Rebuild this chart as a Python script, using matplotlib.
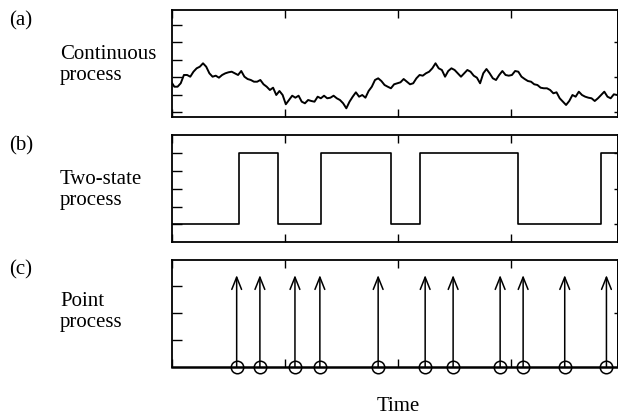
import numpy as np
import matplotlib
matplotlib.use("Agg")
import matplotlib.pyplot as plt

plt.rcParams['font.family'] = ['Liberation Serif', 'DejaVu Serif']

# ---------------- data ----------------
# (a) continuous process, sampled uniformly in time
cont_t_start, cont_t_end = -0.01, 3.945
cont_values = [
    0.874, 0.731, 0.731, 0.829, 1.066, 1.066, 1.017, 1.160, 1.257, 1.303,
    1.400, 1.303, 1.114, 1.017, 1.046, 0.989, 1.066, 1.114, 1.143, 1.160,
    1.114, 1.066, 1.180, 1.017, 0.951, 0.923, 0.874, 0.874, 0.923, 0.800,
    0.731, 0.637, 0.703, 0.494,
    0.609, 0.494, 0.229, 0.351, 0.474, 0.417, 0.474, 0.303, 0.257, 0.351,
    0.323, 0.303, 0.446, 0.400, 0.474, 0.400, 0.417, 0.474, 0.400, 0.351,
    0.257, 0.114, 0.303, 0.446, 0.571, 0.446, 0.494, 0.417, 0.609, 0.731,
    0.923, 0.971, 0.894, 0.780, 0.731,
    0.686, 0.800, 0.829, 0.857, 0.951, 0.874, 0.800, 0.829, 0.971, 1.066,
    1.046, 1.114, 1.160, 1.257, 1.400, 1.257, 1.209, 1.017, 1.180, 1.257,
    1.209, 1.114, 1.017, 1.114, 1.209, 1.160, 1.046, 0.989, 0.829, 1.114,
    1.237, 1.114, 0.971, 0.923, 1.066, 1.180,
    1.066, 1.046, 1.066, 1.180, 1.160, 1.017, 0.951, 0.894, 0.874, 0.800,
    0.780, 0.703, 0.686, 0.686, 0.637, 0.543, 0.571, 0.400, 0.303, 0.209,
    0.323, 0.494, 0.446, 0.589, 0.494, 0.446, 0.417, 0.400, 0.323, 0.400,
    0.494, 0.589, 0.446, 0.400, 0.514, 0.494,
]

# (b) two-state process: switching times and the state after each switch
switch_times = [0.0, 0.594, 0.940, 1.318, 1.939, 2.196, 3.067, 3.800]
switch_states = [0, 1, 0, 1, 0, 1, 0, 1]
t_end = 3.95

# (c) point process event times and arrow height
event_times = [0.571, 0.777, 1.088, 1.309, 1.826, 2.243, 2.491, 2.908,
               3.112, 3.481, 3.851]
event_height = 1.71

panel_letters = ['(a)', '(b)', '(c)']
panel_names = ['Continuous\nprocess', 'Two-state\nprocess', 'Point\nprocess']
xlabel = 'Time'

# ---------------- figure ----------------
W, H = 618, 415
fig = plt.figure(figsize=(W / 100, H / 100), dpi=100)

def fx(px):
    return px / W

def fy(py):
    return 1 - py / H

left_px, right_px = 172.3, 617.6
panels_px = [(10, 117.3), (135, 242.3), (259.5, 367.3)]
axes = []
for top, bot in panels_px:
    ax = fig.add_axes([fx(left_px), fy(bot), fx(right_px - left_px),
                       (bot - top) / H])
    axes.append(ax)

spine_lw = 1.3

def style(ax, major, minor, ylim):
    ax.set_xlim(0, t_end)
    ax.set_ylim(*ylim)
    for s in ax.spines.values():
        s.set_linewidth(spine_lw)
    ax.set_xticks([0, 1, 2, 3])
    ax.set_xticklabels([])
    ax.xaxis.set_ticks_position('both')
    ax.tick_params(axis='x', direction='in', length=5.5, width=1.0)
    ax.set_yticks(major)
    ax.set_yticks(minor, minor=True)
    ax.set_yticklabels([])
    ax.yaxis.set_ticks_position('left')
    ax.tick_params(axis='y', which='both', direction='in', length=7,
                   width=1.0, left=True, right=False)
    sec = ax.secondary_yaxis('right')
    sec.set_yticks(major)
    sec.set_yticklabels([])
    sec.tick_params(direction='in', length=3, width=1.0)
    sec.spines['right'].set_linewidth(spine_lw)

# (a)
ax = axes[0]
t_cont = np.linspace(cont_t_start, cont_t_end, len(cont_values))
ax.plot(t_cont, cont_values, color='black', lw=1.4)
style(ax, [0, 1, 2], [0.5, 1.5, 2.5], (-0.143, 2.923))

# (b)
ax = axes[1]
st_t = list(switch_times) + [t_end]
st_v = list(switch_states) + [switch_states[-1]]
ax.step(st_t, st_v, where='post', color='black', lw=1.2)
style(ax, [0, 0.5, 1], [0.25, 0.75], (-0.254, 1.258))

# (c)
ax = axes[2]
style(ax, [1], [0.5, 1.5], (0, 2.0))
ax.spines['bottom'].set_linewidth(1.8)
for t in event_times:
    ax.annotate('', xy=(t, event_height), xytext=(t, 0),
                arrowprops=dict(arrowstyle='->,head_length=0.55,head_width=0.22',
                                lw=1.1, color='black', mutation_scale=16,
                                shrinkA=0, shrinkB=0))
ax.plot(event_times, [0] * len(event_times), 'o', ms=9, mfc='none',
        mec='black', mew=1.1, clip_on=False, zorder=5)

# texts (name baselines refer to the last line)
letter_baselines = [25.5, 150.5, 274]
name_baselines = [80, 205, 326.7]
for lab, b in zip(panel_letters, letter_baselines):
    fig.text(fx(9), fy(b), lab, fontsize=15, va='baseline', ha='left')
for name, b in zip(panel_names, name_baselines):
    fig.text(fx(60), fy(b), name, fontsize=15, va='baseline', ha='left',
             linespacing=1.15)
fig.text(fx(398), fy(410.5), xlabel, fontsize=15, va='baseline', ha='center')

fig.savefig('out.png', dpi=100)
